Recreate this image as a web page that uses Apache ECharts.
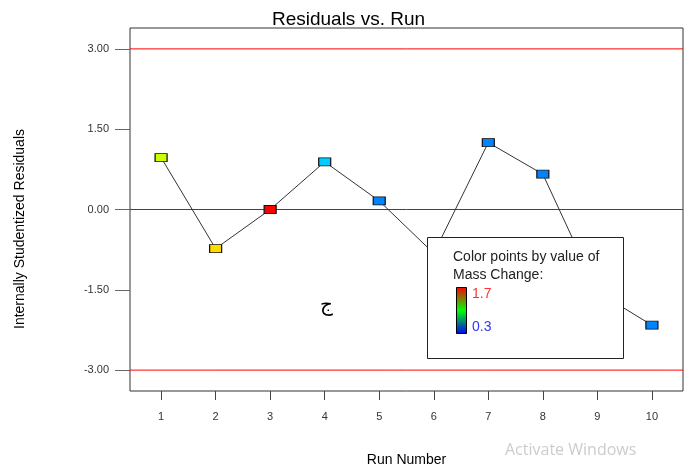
<!DOCTYPE html>
<html>
<head>
<meta charset="utf-8">
<script src="https://cdn.jsdelivr.net/npm/echarts@6/dist/echarts.min.js"></script>
<style>
  html, body { margin: 0; padding: 0; background: #fff; }
  #chart { width: 697px; height: 468px; }
</style>
</head>
<body>
<div id="chart"></div>
<script>
// Run order, studentized residuals and the mass change used to colour each point
const runs = [1, 2, 3, 4, 5, 6, 7, 8, 9, 10];
const residuals = [0.97, -0.73, 0.0, 0.89, 0.16, -0.82, 1.25, 0.66, -1.54, -2.16];
const massChange = [1.28, 1.40, 1.70, 0.58, 0.48, 0.48, 0.48, 0.48, 0.48, 0.48];
const yTicks = [-3, -1.5, 0, 1.5, 3];
const limits = [-3, 3];
const colorRange = [0.3, 1.7];
const xRange = [0.43, 10.57];
const yRange = [-3.39, 3.39];

const FONT = 'Liberation Sans, Arial, sans-serif';
const chart = echarts.init(document.getElementById('chart'), null, { renderer: 'canvas' });

const points = runs.map((r, i) => [r, residuals[i], massChange[i]]);

// horizontal reference line spanning the whole x range
function refLine(value, color) {
  return {
    type: 'line',
    data: [[xRange[0], value], [xRange[1], value]],
    symbol: 'none',
    silent: true,
    lineStyle: { color: color, width: 1, type: 'solid' },
    itemStyle: { color: color },
    z: 2
  };
}

chart.setOption({
  animation: false,
  backgroundColor: '#ffffff',
  title: {
    text: 'Residuals vs. Run',
    left: 'center',
    top: 5,
    textStyle: { fontFamily: FONT, fontSize: 19, fontWeight: 'normal', color: '#000' }
  },
  grid: {
    left: 130, top: 28, right: 14, bottom: 77,
    outerBoundsMode: 'none',
    show: true, borderColor: '#333', borderWidth: 1, backgroundColor: '#fff'
  },
  xAxis: {
    type: 'value',
    min: xRange[0], max: xRange[1],
    name: 'Run Number',
    nameLocation: 'middle',
    nameGap: 62,
    nameTextStyle: { fontFamily: FONT, fontSize: 14, color: '#000' },
    axisLine: { show: false, onZero: false },
    splitLine: { show: false },
    axisTick: { show: true, length: 9, customValues: runs, lineStyle: { color: '#444' } },
    axisLabel: {
      customValues: runs, margin: 20,
      fontFamily: FONT, fontSize: 11, color: '#333'
    }
  },
  yAxis: {
    type: 'value',
    min: yRange[0], max: yRange[1],
    axisLine: { show: false, onZero: false },
    splitLine: { show: false },
    axisTick: { show: true, length: 15, customValues: yTicks, lineStyle: { color: '#666' } },
    axisLabel: {
      customValues: yTicks, margin: 21,
      fontFamily: FONT, fontSize: 11, color: '#333',
      formatter: v => v.toFixed(2)
    }
  },
  visualMap: {
    show: false,
    type: 'continuous',
    seriesIndex: 0,
    dimension: 2,
    min: colorRange[0], max: colorRange[1],
    inRange: { color: ['#0000ff', '#00ffff', '#00ff00', '#ffff00', '#ff0000'] }
  },
  series: [
    {
      type: 'scatter',
      data: points,
      symbol: 'rect',
      symbolSize: [12, 8],
      itemStyle: { borderColor: '#111', borderWidth: 1, opacity: 1 },
      z: 4
    },
    {
      type: 'line',
      data: points.map(p => [p[0], p[1]]),
      symbol: 'none',
      lineStyle: { color: '#333', width: 1 },
      z: 3
    },
    refLine(0, '#444'),
    refLine(limits[0], '#ff0000'),
    refLine(limits[1], '#ff0000')
  ],
  graphic: [
    {
      type: 'text',
      x: 20, y: 229,
      rotation: Math.PI / 2,
      style: {
        text: 'Internally Studentized Residuals',
        font: '14px ' + FONT, fill: '#000',
        align: 'center', verticalAlign: 'middle'
      },
      z: 10
    },
    {
      type: 'text',
      x: 320, y: 296,
      style: { text: 'ج', font: '20px DejaVu Serif, serif', fill: '#000' },
      z: 10
    },
    {
      type: 'group',
      z: 20,
      children: [
        {
          type: 'rect',
          shape: { x: 427.5, y: 237.5, width: 196, height: 121 },
          style: { fill: '#fff', stroke: '#222', lineWidth: 1 },
          z: 20
        },
        {
          type: 'text', x: 453, y: 250,
          style: { text: 'Color points by value of', font: '14px ' + FONT, fill: '#222' },
          z: 21
        },
        {
          type: 'text', x: 453, y: 268,
          style: { text: 'Mass Change:', font: '14px ' + FONT, fill: '#222' },
          z: 21
        },
        {
          type: 'rect',
          shape: { x: 456.5, y: 287.5, width: 10, height: 46 },
          style: {
            fill: new echarts.graphic.LinearGradient(0, 0, 0, 1, [
              { offset: 0, color: '#ff0000' },
              { offset: 0.5, color: '#00ff00' },
              { offset: 1, color: '#0000ff' }
            ]),
            stroke: '#000', lineWidth: 1
          },
          z: 21
        },
        {
          type: 'text', x: 472, y: 294,
          style: { text: String(colorRange[1]), font: '14px ' + FONT, fill: '#ff3333', verticalAlign: 'middle' },
          z: 21
        },
        {
          type: 'text', x: 472, y: 327,
          style: { text: String(colorRange[0]), font: '14px ' + FONT, fill: '#3333ff', verticalAlign: 'middle' },
          z: 21
        }
      ]
    },
    {
      type: 'text',
      x: 505, y: 442,
      style: { text: 'Activate Windows', font: '16px Open Sans, sans-serif', fill: '#cccccc' },
      z: 10
    }
  ]
});
</script>
</body>
</html>
